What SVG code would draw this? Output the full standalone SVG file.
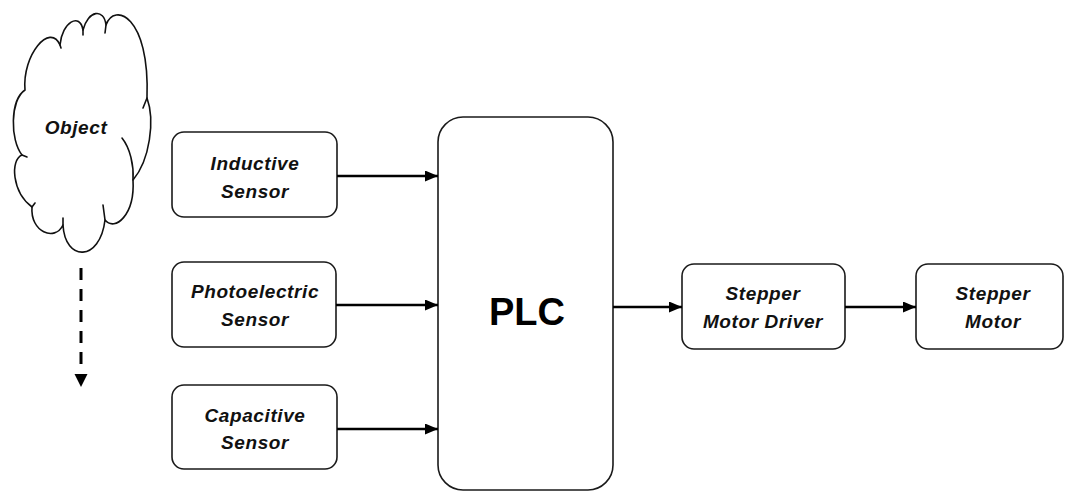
<svg xmlns="http://www.w3.org/2000/svg" width="1067" height="491" viewBox="0 0 1067 491">
<style>
.box{fill:#fff;stroke:#1a1a1a;stroke-width:1.6}
.lbl{font-family:"Liberation Sans",Arial,sans-serif;font-weight:bold;font-style:italic;font-size:19px;letter-spacing:0.6px;fill:#111;text-anchor:middle}
.plc{font-family:"Liberation Sans",Arial,sans-serif;font-weight:bold;font-size:38px;fill:#000;text-anchor:middle}
.conn{stroke:#000;stroke-width:2.5;fill:none}
.dash{stroke:#000;stroke-width:3;fill:none;stroke-dasharray:12,9}
.cloud{fill:#fff;stroke:#111;stroke-width:1.6;stroke-linejoin:round}
.tail{fill:none;stroke:#111;stroke-width:1.6;stroke-linecap:round}
</style>
<defs>
<marker id="ah" markerWidth="13" markerHeight="11" refX="13" refY="5.5" orient="auto" markerUnits="userSpaceOnUse">
<path d="M0,0 L13,5.5 L0,11 Z" fill="#000"/>
</marker>
</defs>
<rect width="1067" height="491" fill="#fff"/>
<g id="object">
<path class="cloud" d="M25,90 C22,55 50,22 60,45 C62,22 80,12 83,30 C88,10 104,8 106,25 C114,2 150,15 147,98 C155,120 150,160 133,180 C135,215 115,232 105,220 C100,262 65,262 63,225 C55,242 30,232 32,207 C12,192 10,160 22,155 C10,140 10,100 25,90 Z"/>
<path class="tail" d="M60,45 L61,48 M83,30 L83,35 M106,25 L105,33 M147,98 L143,108 M122,138 C130,148 134,165 133,180 M105,220 L103,205 M63,225 L63,218 M32,207 L35,203 M22,155 L27,157"/>
<text class="lbl" x="76" y="134">Object</text>
</g>
<g id="inductive">
<rect class="box" x="172" y="132" width="165" height="85" rx="12"/>
<text class="lbl" x="255" y="170">Inductive</text>
<text class="lbl" x="255" y="198">Sensor</text>
</g>
<g id="photoelectric">
<rect class="box" x="172" y="262" width="164" height="85" rx="12"/>
<text class="lbl" x="255" y="298">Photoelectric</text>
<text class="lbl" x="255" y="326">Sensor</text>
</g>
<g id="capacitive">
<rect class="box" x="172" y="385" width="165" height="84" rx="12"/>
<text class="lbl" x="255" y="422">Capacitive</text>
<text class="lbl" x="255" y="449">Sensor</text>
</g>
<g id="plc">
<rect class="box" x="438" y="117" width="175" height="373" rx="25"/>
<text class="plc" x="527" y="325">PLC</text>
</g>
<g id="driver">
<rect class="box" x="682" y="264" width="163" height="85" rx="12"/>
<text class="lbl" x="763" y="300">Stepper</text>
<text class="lbl" x="763" y="328">Motor Driver</text>
</g>
<g id="motor">
<rect class="box" x="916" y="264" width="147" height="85" rx="12"/>
<text class="lbl" x="993" y="300">Stepper</text>
<text class="lbl" x="993" y="328">Motor</text>
</g>
<g id="connectors">
<line class="dash" x1="81" y1="268" x2="81" y2="365"/>
<path d="M74.5,374 L87.5,374 L81,387 Z" fill="#000"/>
<line class="conn" x1="337" y1="176" x2="438" y2="176" marker-end="url(#ah)"/>
<line class="conn" x1="336" y1="305" x2="438" y2="305" marker-end="url(#ah)"/>
<line class="conn" x1="337" y1="429" x2="438" y2="429" marker-end="url(#ah)"/>
<line class="conn" x1="613" y1="307" x2="682" y2="307" marker-end="url(#ah)"/>
<line class="conn" x1="845" y1="307" x2="916" y2="307" marker-end="url(#ah)"/>
</g>
</svg>
